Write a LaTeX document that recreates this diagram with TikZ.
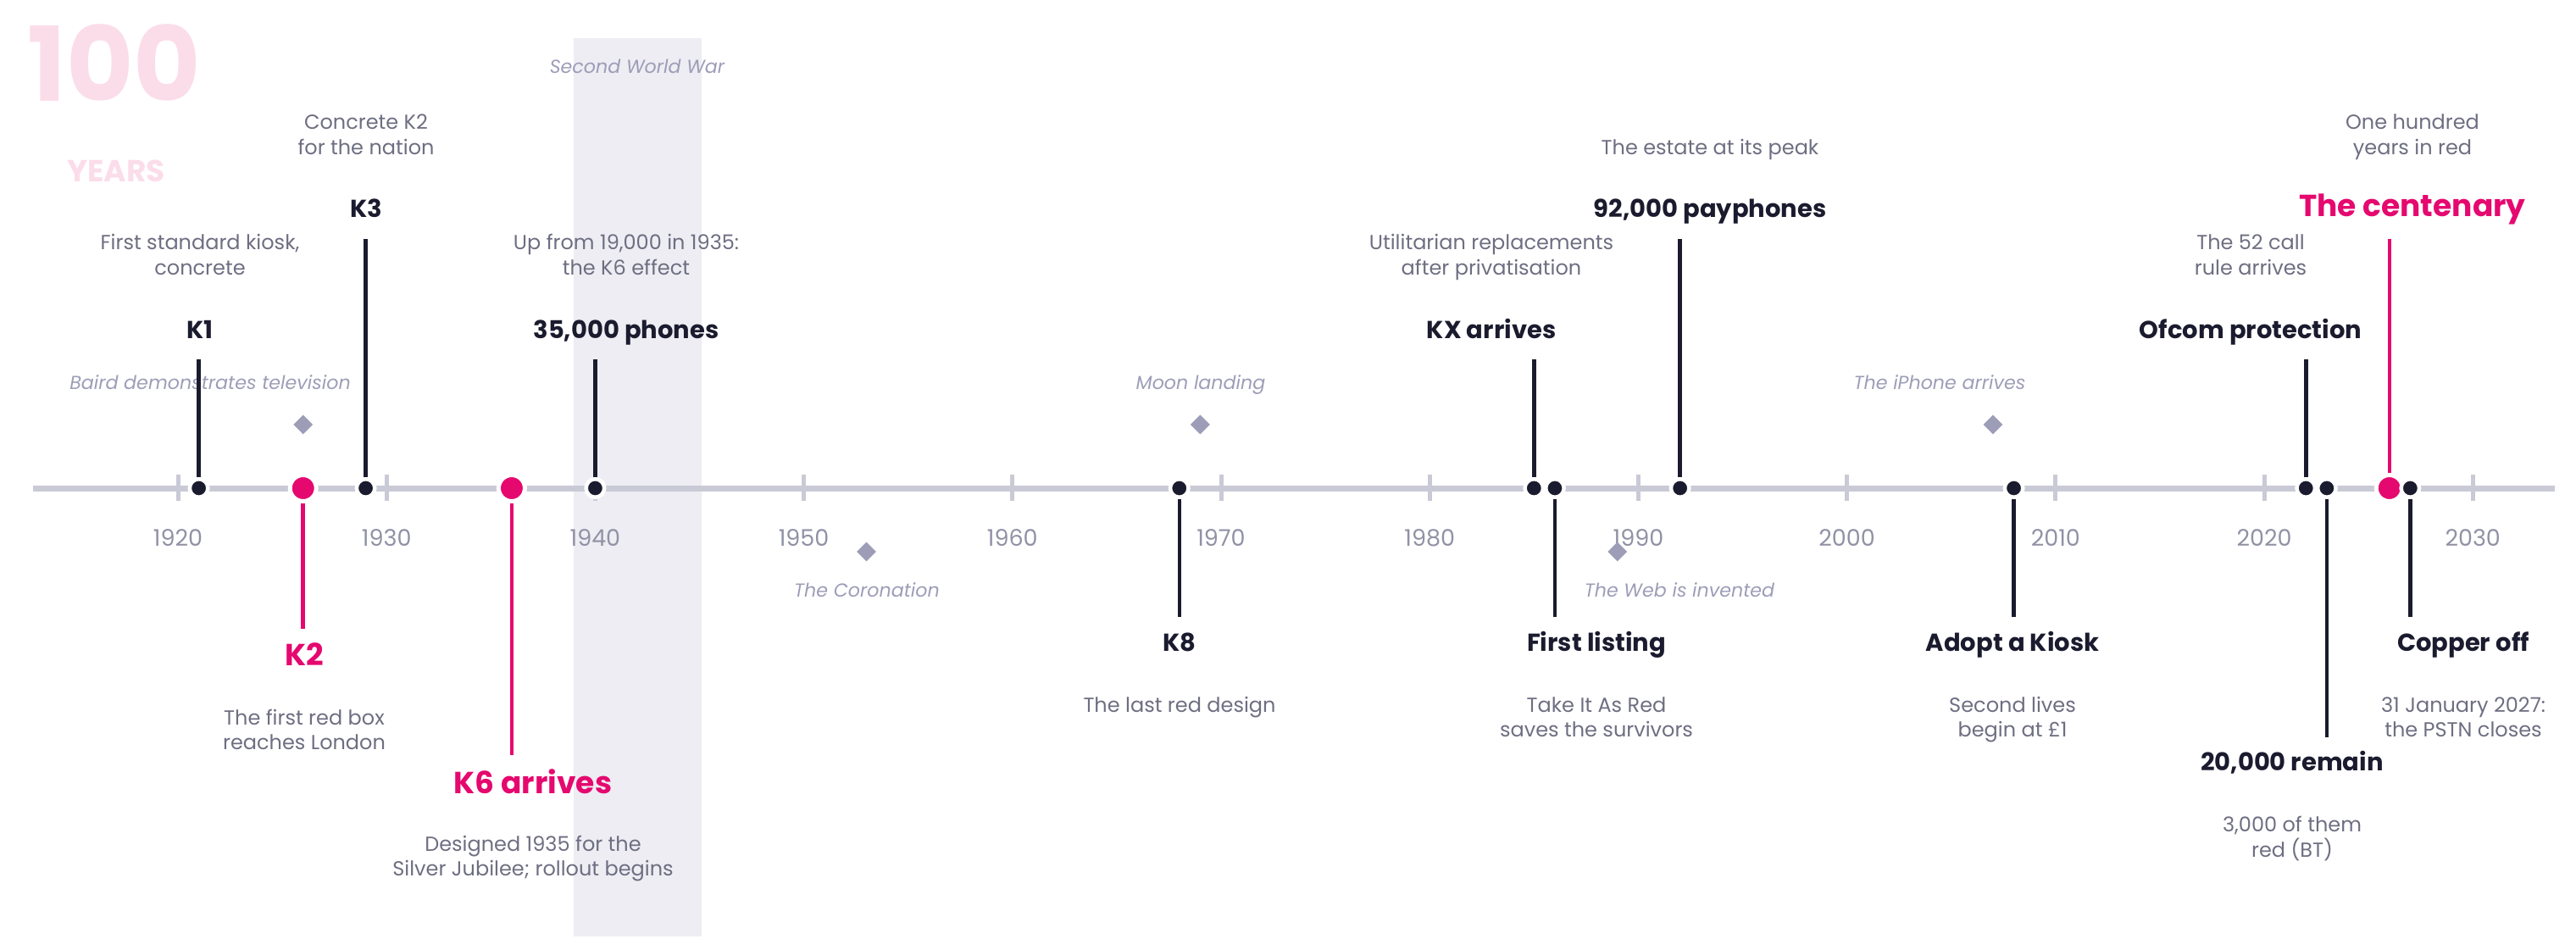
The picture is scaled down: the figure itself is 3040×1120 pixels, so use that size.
\documentclass[tikz,border=0pt]{standalone}
\usepackage{fontspec}
\setmainfont{Poppins}
\usetikzlibrary{shapes.geometric}

\definecolor{ink}{HTML}{1B1B2F}
\definecolor{hot}{HTML}{E5086F}
\definecolor{slate}{HTML}{6E6E82}
\definecolor{yeargray}{HTML}{9091A5}
\definecolor{ctxgray}{HTML}{9D9DB8}
\definecolor{rule}{HTML}{C9CAD6}
\definecolor{bandgray}{HTML}{EDEDF3}
\definecolor{ghost}{HTML}{FBDDEA}

\tikzset{
  axisline/.style={line width=7pt, draw=rule},
  tickmark/.style={line width=5pt, draw=rule},
  stem/.style={line width=4.5pt, draw=ink},
  stemhi/.style={line width=4.5pt, draw=hot},
  dotdark/.style={circle, fill=ink, draw=white, line width=4.5pt, minimum size=21.5pt, inner sep=0pt},
  dothi/.style={circle, fill=hot, draw=white, line width=5pt, minimum size=31pt, inner sep=0pt},
  ctxmark/.style={diamond, fill=ctxgray, minimum size=23pt, inner sep=0pt},
  ctx/.style={font=\itshape\fontsize{22.2}{27}\selectfont, text=ctxgray, anchor=base, inner sep=0pt},
  title/.style={font=\bfseries\fontsize{29}{35}\selectfont, text=ink, anchor=base, inner sep=0pt},
  titlehi/.style={font=\bfseries\fontsize{36}{43}\selectfont, text=hot, anchor=base, inner sep=0pt},
  desc/.style={font=\fontsize{24}{29.5}\selectfont, text=slate, align=center, anchor=base, inner sep=0pt},
  yearlbl/.style={font=\fontsize{27}{32}\selectfont, text=yeargray, anchor=base, inner sep=0pt},
}

\begin{document}
\begin{tikzpicture}[x=1pt, y=-1pt]
\def\xo{210}
\def\px{24.62}
\def\yr#1{\xo+\px*(#1-1920)}

\useasboundingbox (0,0) rectangle (3040,1120);

% war years
\fill[bandgray] (677,45) rectangle (828,1105);
\node[ctx] (ww2) at (752,86) {Second World War};

% big number
\node[font=\bfseries\fontsize{122}{122}\selectfont, text=ghost, anchor=base west, inner sep=0pt] (hundred) at (32,119) {100};
\node[font=\bfseries\fontsize{36}{36}\selectfont, text=ghost, anchor=base west, inner sep=0pt] (years) at (79,214) {YEARS};

% axis and decades
\draw[axisline] (39,576) -- (3015,576);
\foreach \y in {1920,1930,...,2030}{
  \draw[tickmark] ({\yr{\y}},560) -- ({\yr{\y}},591);
  \node[yearlbl] (y\y) at ({\yr{\y}},644) {\y};
}

% context events
\node[ctxmark] (m1926) at ({\yr{1926}},501) {};
\node[ctx] (c1926) at (248,459) {Baird demonstrates television};
\node[ctxmark] (m1953) at ({\yr{1953}},651) {};
\node[ctx] (c1953) at (1023,704) {The Coronation};
\node[ctxmark] (m1969) at ({\yr{1969}},501) {};
\node[ctx] (c1969) at (1417,459) {Moon landing};
\node[ctxmark] (m1989) at ({\yr{1989}},651) {};
\node[ctx] (c1989) at (1982,704) {The Web is invented};
\node[ctxmark] (m2007) at ({\yr{2007}},501) {};
\node[ctx] (c2007) at (2289,459) {The iPhone arrives};

% kiosk events above the line
\node[dotdark] (d1921) at ({\yr{1921}},576) {};
\coordinate (s1921) at ({\yr{1921}},424);
\draw[stem] (d1921) -- (s1921);
\node[title] (t1921) at (236,399) {K1};
\node[desc] (n1921) at (236,324) {First standard kiosk,\\concrete};

\node[dotdark] (d1929) at ({\yr{1929}},576) {};
\coordinate (s1929) at ({\yr{1929}},282);
\draw[stem] (d1929) -- (s1929);
\node[title] (t1929) at (432,256) {K3};
\node[desc] (n1929) at (432,182) {Concrete K2\\for the nation};

\node[dotdark] (d1940) at ({\yr{1940}},576) {};
\coordinate (s1940) at ({\yr{1940}},424);
\draw[stem] (d1940) -- (s1940);
\node[title] (t1940) at (739,399) {35,000 phones};
\node[desc] (n1940) at (739,324) {Up from 19,000 in 1935:\\the K6 effect};

\node[dotdark] (d1985) at ({\yr{1985}},576) {};
\coordinate (s1985) at ({\yr{1985}},424);
\draw[stem] (d1985) -- (s1985);
\node[title] (t1985) at (1760,399) {KX arrives};
\node[desc] (n1985) at (1760,324) {Utilitarian replacements\\after privatisation};

\node[dotdark] (d1992) at ({\yr{1992}},576) {};
\coordinate (s1992) at ({\yr{1992}},282);
\draw[stem] (d1992) -- (s1992);
\node[title] (t1992) at (2018,256) {92,000 payphones};
\node[desc] (n1992) at (2018,182) {The estate at its peak};

\node[dotdark] (d2022) at ({\yr{2022}},576) {};
\coordinate (s2022) at ({\yr{2022}},424);
\draw[stem] (d2022) -- (s2022);
\node[title] (t2022) at (2656,399) {Ofcom protection};
\node[desc] (n2022) at (2656,324) {The 52 call\\rule arrives};

\node[dothi] (d2026) at ({\yr{2026}},576) {};
\coordinate (s2026) at ({\yr{2026}},282);
\draw[stemhi] (d2026) -- (s2026);
\node[titlehi] (t2026) at (2847,255) {The centenary};
\node[desc] (n2026) at (2847,182) {One hundred\\years in red};

% kiosk events below the line
\node[dothi] (d1926) at ({\yr{1926}},576) {};
\coordinate (s1926) at ({\yr{1926}},742);
\draw[stemhi] (d1926) -- (s1926);
\node[titlehi] (t1926) at (359,785) {K2};
\node[desc] (n1926) at (359,884.5) {The first red box\\reaches London};

\node[dothi] (d1936) at ({\yr{1936}},576) {};
\coordinate (s1936) at ({\yr{1936}},891);
\draw[stemhi] (d1936) -- (s1936);
\node[titlehi] (t1936) at (629,936) {K6 arrives};
\node[desc] (n1936) at (629,1033.5) {Designed 1935 for the\\Silver Jubilee; rollout begins};

\node[dotdark] (d1968) at ({\yr{1968}},576) {};
\coordinate (s1968) at ({\yr{1968}},728);
\draw[stem] (d1968) -- (s1968);
\node[title] (t1968) at (1392,768) {K8};
\node[desc] (n1968) at (1392,840) {The last red design};

\node[dotdark] (d1986) at ({\yr{1986}},576) {};
\coordinate (s1986) at ({\yr{1986}},728);
\draw[stem] (d1986) -- (s1986);
\node[title] (t1986) at (1884,768) {First listing};
\node[desc] (n1986) at (1884,869.5) {Take It As Red\\saves the survivors};

\node[dotdark] (d2008) at ({\yr{2008}},576) {};
\coordinate (s2008) at ({\yr{2008}},728);
\draw[stem] (d2008) -- (s2008);
\node[title] (t2008) at (2375,768) {Adopt a Kiosk};
\node[desc] (n2008) at (2375,869.5) {Second lives\\begin at £1};

\node[dotdark] (d2023) at ({\yr{2023}},576) {};
\coordinate (s2023) at ({\yr{2023}},870);
\draw[stem] (d2023) -- (s2023);
\node[title] (t2023) at (2705,909) {20,000 remain};
\node[desc] (n2023) at (2705,1011) {3,000 of them\\red (BT)};

\node[dotdark] (d2027) at ({\yr{2027}},576) {};
\coordinate (s2027) at ({\yr{2027}},728);
\draw[stem] (d2027) -- (s2027);
\node[title] (t2027) at (2907,768) {Copper off};
\node[desc] (n2027) at (2907,869.5) {31 January 2027:\\the PSTN closes};

\end{tikzpicture}
\end{document}
